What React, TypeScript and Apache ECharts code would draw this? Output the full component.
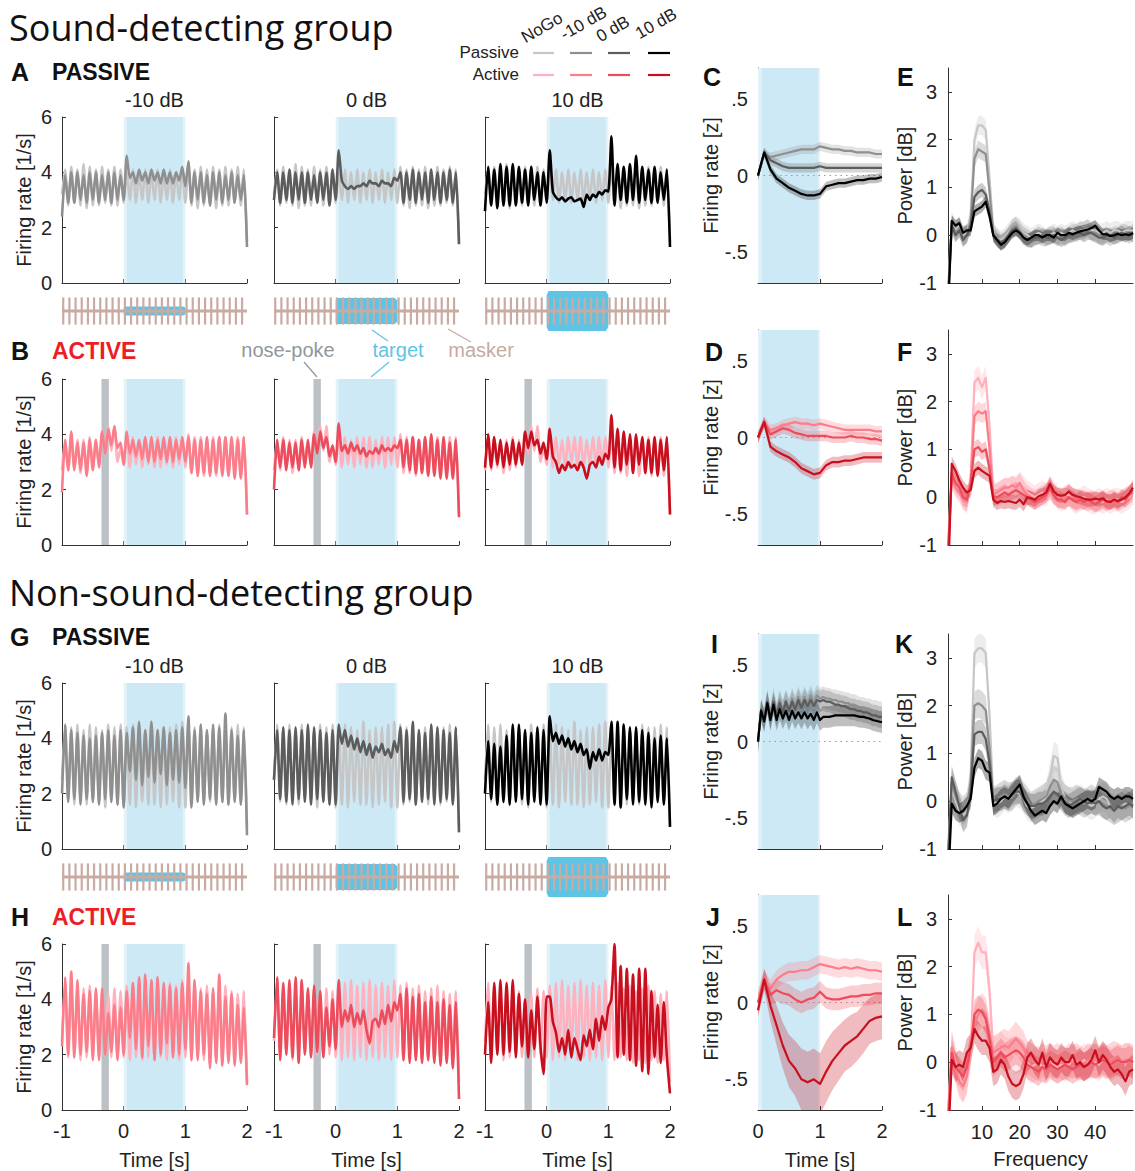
import React, { useEffect, useRef } from 'react';
import * as echarts from 'echarts';

const FONT = "'Liberation Sans', Arial, Helvetica, sans-serif";
const TITLE_FONT = "'Open Sans', 'Liberation Sans', sans-serif";

// ---------------- time / frequency grids ----------------
const tFiring: number[] = Array.from({ length: 61 }, (_, i) => +(-1 + i * 0.05).toFixed(2));
const tZ10: number[] = Array.from({ length: 21 }, (_, i) => +(i * 0.1).toFixed(2));
const tZ20: number[] = Array.from({ length: 41 }, (_, i) => +(i * 0.05).toFixed(2));
const freqHz: number[] = Array.from({ length: 50 }, (_, i) => i + 1);

const levelLabels = ['-10 dB', '0 dB', '10 dB'];
const noseWindow = [-0.36, -0.24];
const maskerOnsets = [-0.98, -0.88, -0.78, -0.68, -0.58, -0.48, -0.38, -0.28, -0.18, -0.08, 0.02, 0.12, 0.22, 0.32, 0.42, 0.52, 0.62, 0.72, 0.82, 0.92, 1.02, 1.12, 1.22, 1.32, 1.42, 1.52, 1.62, 1.72, 1.82, 1.92];
const targetHeights = [0.22, 0.65, 1.0];

// ---------------- firing rates [1/s], t = -1 .. 2 ----------------
const A_nogo = [3.2,4.1,2.8,4.2,2.9,4.1,2.8,4.3,2.7,4.2,2.8,4.1,2.8,4.2,2.9,4.1,2.8,4.2,2.8,4.1, 2.9,4.0,3.0,4.1,2.9,4.0,3.0,4.1,2.9,4.0,3.0,4.1,2.9,4.0,3.0,4.1,2.9,4.0,3.0,4.1,2.9, 4.2,2.8,4.1,2.7,4.2,2.8,4.1,2.8,4.2,2.7,4.1,2.8,4.2,2.8,4.1,2.9,4.2,2.8,4.1,1.5];
const A_m10 = [2.4,3.9,2.9,4.0,2.9,4.0,3.0,3.9,2.9,4.0,3.0,4.0,2.9,3.9,3.0,4.0,2.9,4.0,3.0,3.9, 3.0,4.6,3.8,4.0,3.6,4.1,3.7,4.0,3.6,4.1,3.7,4.0,3.6,4.1,3.6,4.0,3.6,4.0,3.7,4.2,3.5, 4.4,2.9,4.0,3.0,4.0,2.9,3.9,2.8,4.0,3.0,4.0,2.9,3.9,3.0,4.0,2.9,3.9,3.0,3.9,1.3];
const A_0 = [3.0,4.0,2.9,4.0,3.0,4.1,2.9,4.0,3.0,4.0,2.9,4.0,3.0,3.9,2.9,4.0,3.0,4.0,2.8,4.1, 3.0,4.8,3.7,3.5,3.4,3.5,3.4,3.5,3.5,3.6,3.5,3.7,3.6,3.6,3.5,3.7,3.6,3.6,3.5,3.8,3.7, 4.0,2.9,4.0,3.0,4.1,2.9,4.0,3.0,4.0,2.9,4.1,3.0,4.0,2.9,4.0,3.0,4.1,2.9,4.0,1.4];
const A_10 = [2.6,4.2,2.8,4.1,2.7,4.3,2.8,4.2,2.8,4.3,2.8,4.2,2.9,4.1,2.8,4.2,3.0,4.0,2.8,4.0, 2.9,4.8,3.3,3.1,3.0,3.1,2.95,3.05,3.1,2.95,3.0,3.05,2.75,3.2,3.0,3.2,3.1,3.3,3.2,3.35,3.3, 5.3,2.8,4.3,3.0,4.2,2.9,4.3,3.0,4.6,2.9,4.2,3.0,4.1,2.9,4.2,2.9,4.0,3.0,4.1,1.3];

const B_nogo = [2.7,3.8,2.7,3.9,2.8,3.8,2.6,3.8,2.7,3.9,2.8,3.8,2.9,4.1,3.3,4.3,3.4,4.3,3.0,3.5, 2.9,4.0,2.8,3.9,2.9,3.8,2.8,3.9,2.9,3.9,2.8,3.9,2.8,3.8,2.9,3.9,2.8,3.9,2.9,3.9,2.8, 4.0,2.6,3.9,2.6,3.9,2.5,3.8,2.6,3.9,2.5,3.9,2.6,3.9,2.5,3.8,2.6,3.9,2.5,3.9,1.1];
const B_m10 = [1.9,3.8,2.7,4.1,2.7,3.7,2.7,3.7,2.5,3.8,2.7,3.8,2.8,4.1,3.3,4.2,3.6,4.3,3.5,3.7, 2.9,4.1,3.3,3.8,3.2,3.8,3.1,3.9,3.0,3.9,3.0,3.8,3.1,3.9,3.0,3.9,3.0,3.8,3.1,3.9,3.0, 3.9,2.6,3.8,2.5,3.8,2.6,3.9,2.5,3.8,2.6,3.9,2.5,3.9,2.5,3.9,2.4,3.8,2.4,3.9,1.1];
const B_0 = [2.0,3.8,2.8,3.8,2.7,3.7,2.8,3.7,2.7,3.8,2.8,3.8,2.8,4.0,3.3,4.1,3.5,3.9,3.2,3.6, 3.0,4.4,3.4,3.6,3.3,3.7,3.4,3.6,3.3,3.5,3.2,3.4,3.3,3.5,3.3,3.6,3.4,3.5,3.4,3.6,3.5, 3.8,2.8,3.8,2.7,3.9,2.6,3.8,2.6,3.9,2.5,4.0,2.5,3.8,2.4,3.9,2.4,3.7,2.4,3.8,1.0];
const B_10 = [2.8,4.0,2.8,3.9,2.9,3.8,2.8,3.7,2.9,3.8,2.9,3.7,2.9,4.1,3.5,4.1,3.6,3.8,3.3,3.7, 3.1,4.2,3.2,3.0,2.6,2.9,2.7,3.0,2.8,2.9,2.7,3.0,2.8,2.4,2.9,3.0,2.8,3.2,2.9,3.3,3.1, 4.7,2.8,4.2,2.7,4.1,2.9,4.0,2.6,4.0,2.9,3.9,2.6,3.8,2.6,3.9,2.5,3.8,2.7,3.9,1.1];

const G_nogo = [2.5,4.5,1.7,4.4,1.6,4.5,1.8,4.3,1.6,4.5,1.7,4.4,1.6,4.3,1.5,4.5,1.7,4.4,1.6,4.5, 1.5,4.4,1.6,4.5,1.5,4.4,1.7,4.3,1.6,4.6,1.6,4.3,1.5,4.4,1.6,4.4,1.7,4.5,1.5,4.6,1.5, 4.5,1.6,4.4,1.7,4.5,1.6,4.3,1.7,4.4,1.6,4.5,1.7,4.4,1.6,4.4,1.7,4.5,1.6,4.4,0.8];
const G_m10 = [2.0,4.5,1.7,4.3,1.8,4.2,1.6,4.1,1.8,4.0,1.7,4.1,1.6,4.2,1.8,4.3,1.7,4.1,1.6,4.3, 1.5,4.2,2.8,4.4,2.5,4.6,2.3,4.3,2.6,4.6,2.4,4.3,2.7,4.4,2.3,4.2,2.5,4.3,2.4,4.4,2.2, 4.8,1.5,4.3,1.7,4.5,1.6,4.3,1.8,4.5,1.6,4.4,1.7,4.9,1.6,4.3,1.7,4.1,1.6,4.3,0.5];
const G_0 = [2.5,4.3,1.8,4.4,1.7,4.3,1.6,4.4,1.8,4.3,1.7,4.5,1.6,4.4,1.8,4.3,1.7,4.2,1.6,4.3, 1.6,4.5,3.8,4.3,3.7,4.1,3.6,4.0,3.5,3.9,3.4,3.8,3.3,3.7,3.5,3.8,3.4,3.6,3.3,3.9,3.5, 4.4,1.7,4.3,1.8,4.6,1.6,4.3,1.7,4.2,1.8,4.5,1.6,4.4,1.7,4.3,1.8,4.2,1.6,4.4,0.6];
const G_10 = [2.0,3.9,1.8,3.8,1.6,3.7,1.7,4.1,1.6,4.5,1.7,4.5,1.8,4.3,1.6,4.2,1.7,4.4,1.6,4.3, 1.6,4.8,3.9,4.2,3.8,4.1,3.7,4.0,3.6,3.9,3.5,3.8,3.4,3.6,2.9,3.5,3.2,3.6,3.2,3.5,3.4, 4.6,1.6,4.6,1.5,4.5,1.8,4.4,1.6,4.4,1.7,4.3,1.6,4.2,1.5,4.0,1.7,4.1,1.6,4.0,0.8];

const H_nogo = [2.5,4.6,1.9,4.5,2.0,4.3,1.8,4.4,1.9,4.5,2.0,4.3,1.9,4.0,2.0,4.2,1.9,4.4,2.0,4.3, 1.9,4.5,1.8,4.6,1.9,4.7,1.8,4.5,1.9,4.6,1.8,4.7,1.9,4.5,1.8,4.6,1.9,4.5,1.8,4.7,1.9, 4.5,1.8,4.6,1.9,4.4,1.8,4.5,1.7,4.3,1.8,4.4,1.7,4.5,1.8,4.3,1.7,4.2,1.8,4.3,1.0];
const H_m10 = [2.3,4.8,2.0,5.0,1.9,4.7,2.0,4.2,2.1,4.3,1.8,4.4,1.8,4.4,2.0,3.5,2.1,3.8,1.8,3.7, 2.0,4.3,2.6,4.6,2.2,4.8,1.9,4.9,2.3,4.7,1.8,4.8,2.0,4.6,2.4,4.5,1.9,4.4,2.0,4.6,2.2, 5.3,1.8,4.7,1.8,4.3,2.0,4.2,1.5,4.4,1.7,4.9,1.6,4.1,1.7,4.2,1.6,3.8,1.7,3.7,0.9];
const H_0 = [2.6,4.8,1.8,4.6,2.0,4.7,1.9,4.8,1.7,4.7,2.0,4.4,1.9,4.5,2.1,4.3,1.9,3.7,2.3,4.0, 2.2,4.7,3.0,3.6,3.2,3.8,3.0,3.5,3.1,3.6,2.9,2.4,3.2,3.3,3.0,3.6,3.1,3.8,3.2,3.9,3.6, 4.2,1.8,4.4,1.7,4.1,1.8,4.2,1.7,3.9,1.8,4.1,1.7,3.9,1.6,4.0,1.7,3.8,1.5,3.9,0.4];
const H_10 = [2.0,3.9,1.7,4.6,2.0,4.7,2.0,4.6,2.1,4.7,1.9,4.2,2.3,4.0,1.9,3.6,2.2,4.1,2.3,1.3, 4.1,4.1,3.2,2.8,2.1,2.6,2.0,2.9,1.9,2.6,2.2,1.8,2.7,2.3,2.9,2.2,3.3,2.5,3.4,2.9,3.7, 4.0,6.0,1.9,5.2,2.0,5.1,1.8,4.9,1.6,5.1,1.4,5.1,1.3,4.3,1.9,3.8,1.7,3.9,1.9,0.6];

// ---------------- firing rate [z], t = 0 .. 2 ----------------
const C_m10 = [0.0,0.14,0.12,0.13,0.14,0.15,0.16,0.17,0.17,0.17,0.19,0.18,0.17,0.17,0.16,0.16,0.15,0.15,0.15,0.14,0.14];
const C_0 = [0.0,0.15,0.1,0.08,0.06,0.05,0.05,0.05,0.05,0.05,0.06,0.05,0.05,0.05,0.05,0.05,0.05,0.05,0.05,0.05,0.05];
const C_10 = [0.0,0.15,0.04,-0.02,-0.05,-0.08,-0.1,-0.12,-0.13,-0.13,-0.12,-0.07,-0.06,-0.05,-0.05,-0.04,-0.03,-0.03,-0.02,-0.02,-0.01];
const D_m10 = [0.0,0.1,0.05,0.06,0.08,0.09,0.1,0.09,0.09,0.08,0.09,0.08,0.07,0.06,0.05,0.05,0.05,0.05,0.05,0.04,0.04];
const D_0 = [0.0,0.1,0.02,0.04,0.06,0.05,0.03,0.02,0.01,0.01,0.01,0.01,0.0,0.0,0.0,0.01,0.0,0.0,-0.01,-0.01,-0.02];
const D_10 = [0.0,0.1,-0.06,-0.09,-0.11,-0.13,-0.16,-0.2,-0.22,-0.24,-0.23,-0.18,-0.16,-0.16,-0.15,-0.15,-0.14,-0.13,-0.13,-0.13,-0.13];
const I_m10 = [0.0,0.2,0.15,0.27,0.16,0.28,0.18,0.27,0.2,0.27,0.21,0.28,0.23,0.29,0.24,0.29,0.25,0.3,0.25,0.3,0.28,0.29,0.28,0.28,0.27,0.27,0.26,0.26,0.25,0.25,0.24,0.24,0.23,0.22,0.22,0.21,0.21,0.2,0.2,0.19,0.19];
const I_0 = [0.0,0.21,0.14,0.26,0.15,0.26,0.17,0.25,0.19,0.26,0.2,0.26,0.21,0.27,0.22,0.27,0.23,0.27,0.23,0.27,0.26,0.27,0.26,0.26,0.25,0.24,0.24,0.23,0.23,0.22,0.21,0.21,0.2,0.2,0.19,0.19,0.18,0.17,0.17,0.16,0.16];
const I_10 = [0.0,0.2,0.13,0.25,0.14,0.24,0.14,0.21,0.15,0.2,0.14,0.2,0.15,0.19,0.15,0.19,0.15,0.18,0.14,0.19,0.14,0.16,0.16,0.16,0.165,0.17,0.17,0.17,0.17,0.17,0.17,0.17,0.165,0.16,0.16,0.155,0.15,0.14,0.135,0.13,0.125];
const J_m10 = [0.0,0.15,0.09,0.15,0.18,0.2,0.2,0.21,0.21,0.23,0.25,0.24,0.23,0.22,0.23,0.22,0.23,0.22,0.21,0.21,0.2];
const J_0 = [0.0,0.15,0.05,0.08,0.06,0.05,0.02,0.0,0.02,0.03,0.07,0.03,0.02,0.02,0.03,0.04,0.04,0.05,0.05,0.06,0.06];
const J_10 = [-0.05,0.15,-0.02,-0.15,-0.28,-0.38,-0.43,-0.5,-0.52,-0.5,-0.53,-0.45,-0.38,-0.33,-0.28,-0.25,-0.22,-0.17,-0.12,-0.1,-0.09];
const J_10_err = [0.05,0.07,0.1,0.13,0.15,0.17,0.18,0.2,0.2,0.2,0.2,0.2,0.19,0.18,0.17,0.17,0.16,0.16,0.15,0.15,0.15];
const zErr = { C: [0.03, 0.03, 0.03], D: [0.035, 0.035, 0.035], I: [0.07, 0.07, 0.07], J: [0.06, 0.07, 0] };

// ---------------- power [dB], f = 1 .. 50 Hz ----------------
const E_nogo = [-1.2,0.3,0.1,0.2,0.0,0.05,0.4,2.0,2.3,2.3, 2.2,1.2,0.1,-0.05,-0.1,-0.05,0.05,0.15,0.2,0.15, 0.05,0.0,-0.05,0.0,0.05,0.0,-0.05,0.0,0.05,0.0, 0.05,0.0,0.05,0.1,0.05,0.1,0.1,0.15,0.1,0.1, 0.05,0.05,0.1,0.05,0.1,0.1,0.05,0.1,0.1,0.1];
const E_m10 = [-1.3,0.25,0.05,0.15,-0.05,0.0,0.3,1.6,1.8,1.75, 1.7,0.9,0.05,-0.05,-0.15,-0.1,0.0,0.15,0.2,0.1, 0.0,-0.05,-0.1,-0.05,0.0,-0.05,-0.05,0.0,0.0,-0.05, 0.0,-0.05,0.0,0.05,0.05,0.1,0.1,0.15,0.05,0.05, 0.0,-0.05,0.0,-0.05,0.0,0.0,0.05,0.05,0.0,0.05];
const E_0 = [-1.4,0.2,0.0,0.1,-0.1,0.0,0.2,0.8,0.9,0.95, 0.85,0.5,0.0,-0.1,-0.15,-0.1,0.0,0.1,0.15,0.05, -0.05,-0.1,-0.1,-0.05,-0.05,0.0,-0.05,-0.05,0.0,-0.05, -0.1,-0.05,0.0,0.0,0.05,0.05,0.0,0.05,0.05,0.0, -0.05,-0.05,0.0,0.0,-0.05,0.0,0.05,0.0,0.05,0.0];
const E_10 = [-1.6,0.3,0.2,0.25,0.05,0.1,0.1,0.5,0.55,0.6, 0.7,0.4,0.0,-0.1,-0.2,-0.15,-0.05,0.05,0.1,0.05, -0.05,-0.1,-0.05,0.0,0.0,-0.05,0.0,0.0,-0.05,0.05, 0.0,0.0,0.05,0.02,0.05,0.08,0.1,0.12,0.15,0.2, 0.1,0.02,0.02,-0.02,0.0,0.03,0.0,0.02,0.0,0.05];
const F_nogo = [-1.0,0.5,0.3,0.2,0.0,-0.1,0.4,2.4,2.5,2.3, 2.5,1.5,0.1,0.05,0.1,0.15,0.15,0.2,0.2,0.3, 0.2,0.1,0.05,0.0,0.05,0.1,0.05,0.2,0.1,0.0, -0.05,0.0,0.05,-0.05,-0.1,-0.05,0.0,-0.05,-0.1,-0.1, -0.05,-0.1,-0.05,-0.1,-0.05,-0.05,-0.1,-0.05,0.0,0.1];
const F_m10 = [-1.1,0.4,0.2,0.1,-0.05,-0.1,0.3,1.7,1.8,1.75, 1.8,1.0,0.05,0.1,0.15,0.2,0.2,0.25,0.2,0.3, 0.15,0.05,0.0,-0.05,0.0,0.05,0.1,0.15,0.05,0.0, -0.05,0.0,0.0,-0.05,-0.1,-0.05,-0.05,-0.1,-0.05,-0.1, -0.1,-0.05,-0.1,-0.05,-0.05,-0.1,-0.05,0.0,0.05,0.1];
const F_0 = [-1.3,0.5,0.3,0.2,0.0,-0.05,0.3,1.0,1.05,0.95, 1.0,0.6,0.0,0.0,0.05,0.1,0.05,0.1,0.15,0.1, 0.05,0.0,-0.05,-0.1,-0.05,0.0,0.05,0.2,0.05,-0.05, -0.05,-0.1,0.0,-0.05,-0.1,-0.05,-0.1,-0.05,-0.1,-0.15, -0.1,-0.05,-0.1,-0.1,-0.05,-0.1,0.0,-0.05,0.05,0.15];
const F_10 = [-1.8,0.7,0.55,0.35,0.2,0.1,0.15,0.55,0.62,0.55, 0.5,0.45,-0.05,-0.12,-0.08,-0.1,-0.08,-0.1,-0.12,-0.05, -0.15,0.0,-0.02,-0.05,0.02,0.05,0.1,0.28,0.12,0.05, 0.03,0.05,0.12,0.05,0.02,0.0,-0.03,-0.05,-0.05,-0.03, -0.05,-0.02,-0.08,-0.1,-0.05,-0.08,-0.05,0.0,0.08,0.2];
const K_nogo = [-1.0,0.3,0.0,-0.2,-0.3,-0.2,0.5,3.1,3.2,3.2, 3.1,1.8,0.0,-0.05,0.0,0.1,0.05,0.1,0.2,0.15, 0.05,-0.1,-0.15,-0.1,-0.05,0.0,0.1,0.5,0.95,0.9, 0.3,0.05,0.0,-0.05,0.0,0.05,0.0,-0.05,-0.1,-0.05, 0.05,0.1,0.05,-0.1,-0.2,-0.15,-0.1,-0.05,-0.1,-0.05];
const K_m10 = [-1.2,0.4,0.1,-0.1,-0.2,-0.1,0.4,2.0,2.05,2.0, 1.9,1.1,0.0,0.05,0.1,0.15,0.1,0.1,0.2,0.25, 0.1,0.0,-0.1,-0.05,0.0,0.05,0.1,0.3,0.45,0.4, 0.15,0.05,0.0,0.0,0.05,0.0,-0.05,0.0,0.05,0.0, 0.0,-0.05,-0.1,-0.15,-0.2,-0.15,-0.1,-0.15,-0.1,-0.05];
const K_0 = [-1.3,0.5,0.2,-0.1,-0.4,-0.3,0.2,1.4,1.45,1.45, 1.3,0.8,0.0,0.05,0.05,0.1,0.05,0.15,0.2,0.2, 0.05,-0.05,-0.1,-0.1,-0.05,-0.05,0.0,0.1,0.2,0.15, 0.05,-0.05,-0.1,-0.05,0.0,0.05,0.0,-0.05,0.0,-0.05, 0.0,-0.1,-0.15,-0.1,-0.2,-0.1,-0.15,-0.1,-0.05,-0.1];
const K_10 = [-1.8,-0.05,-0.2,-0.25,-0.2,-0.1,0.05,0.7,0.9,0.85, 0.65,0.6,-0.1,-0.05,0.05,0.1,0.05,0.15,0.25,0.35, 0.1,-0.05,-0.2,-0.3,-0.25,-0.2,-0.25,-0.1,0.0,-0.05, 0.1,-0.05,-0.1,-0.15,-0.1,-0.05,0.0,0.05,0.0,0.05, 0.3,0.25,0.2,0.1,0.05,0.1,0.05,0.1,0.1,0.05];
const L_nogo = [-1.0,0.3,0.0,-0.3,-0.5,-0.3,0.2,2.3,2.5,2.3, 2.3,1.5,0.2,0.2,0.3,0.2,0.15,0.2,0.1,0.15, 0.1,0.0,-0.1,-0.05,0.0,-0.1,-0.05,0.05,-0.05,-0.1, -0.05,0.0,-0.05,0.05,0.0,-0.05,0.05,0.0,0.05,0.0, -0.05,0.05,0.0,-0.05,0.0,0.05,0.0,0.05,0.05,0.0];
const L_m10 = [-1.2,0.3,-0.1,-0.4,-0.5,-0.3,0.3,0.8,1.0,1.1, 1.0,0.6,0.2,0.25,0.3,0.35,0.3,0.4,0.5,0.4, 0.3,0.1,0.05,0.0,-0.05,0.05,0.0,0.05,0.0,0.05, 0.0,-0.05,0.05,0.0,0.05,0.0,-0.05,0.05,0.0,0.05, 0.0,0.05,0.0,0.05,0.1,0.05,0.0,0.05,0.05,0.0];
const L_0 = [-1.4,0.2,-0.1,-0.2,-0.3,-0.1,0.3,1.0,1.1,1.05, 0.9,0.5,0.0,0.1,0.2,0.1,0.15,0.2,0.25,0.2, 0.1,-0.05,-0.1,-0.15,-0.2,-0.1,-0.15,-0.05,-0.1,-0.15, -0.1,-0.05,-0.1,-0.15,-0.1,-0.05,-0.1,-0.05,0.0,-0.05, 0.0,0.05,0.0,-0.05,0.0,0.05,0.0,0.0,0.05,0.0];
const L_10 = [-1.8,0.05,-0.1,-0.05,-0.1,0.2,0.3,0.7,0.55,0.45, 0.45,0.3,-0.2,-0.15,0.05,-0.05,-0.3,-0.45,-0.5,-0.45, -0.25,0.1,0.2,0.05,-0.05,0.2,-0.1,0.1,0.0,-0.05, 0.1,0.0,0.0,0.15,-0.05,0.0,-0.1,-0.05,0.05,0.25, 0.0,0.15,0.05,-0.1,-0.2,-0.15,-0.25,-0.4,-0.2,-0.15];
const powerErr = { E: [0.2, 0.18, 0.15, 0.12], F: [0.25, 0.2, 0.17, 0.15], K: [0.3, 0.3, 0.25, 0.2], L: [0.35, 0.35, 0.3, 0.3] };

// ---------------- styling ----------------
const passiveColors = ['#c6c6c6', '#8f8f8f', '#5c5c5c', '#000000'];
const activeColors = ['#ffb1bd', '#fb7d89', '#ec4c5b', '#c80f1e'];
const AX = '#333333';
const TXT = '#222222';
const FR_LEFT = [62, 274, 485];
const FR_TOP = [117, 379, 683, 944];
const FR_W = 185;
const FR_H = 166;
const ZP_TOP = [68, 330, 634, 895];
const ZP_H = 215;
const Z_LEFT = 758;
const Z_W = 124;
const P_LEFT = 948;
const P_W = 185;
const STRIP_TOP = [291, 857];
const STRIP_H = 40;

function rgba(hex: string, a: number) {
  const n = parseInt(hex.slice(1), 16);
  return `rgba(${(n >> 16) & 255},${(n >> 8) & 255},${n & 255},${a})`;
}

function makeAxis(o: any) {
  const ax: any = {
    type: 'value',
    min: o.min,
    max: o.max,
    show: o.hidden ? false : true,
    splitLine: { show: false },
    axisLine: { show: true, onZero: false, lineStyle: { color: AX, width: 1 } },
    axisTick: { show: true, inside: true, length: 4, lineStyle: { color: AX, width: 1 } },
    axisLabel: {
      show: !!o.showLabels,
      fontFamily: FONT,
      fontSize: 20,
      color: TXT,
      margin: o.margin ?? 10,
      formatter: o.fmt ?? ((v: number) => String(v)),
    },
    name: o.name ?? '',
    nameLocation: 'middle',
    nameGap: o.nameGap ?? 30,
    nameTextStyle: { fontFamily: FONT, fontSize: 20, color: TXT },
  };
  if (o.interval !== undefined) ax.interval = o.interval;
  if (o.ticks) {
    ax.axisTick.customValues = o.ticks;
    ax.axisLabel.customValues = o.ticks;
  }
  return ax;
}

function buildOption() {
  const grid: any[] = [];
  const xAxis: any[] = [];
  const yAxis: any[] = [];
  const series: any[] = [];
  const graphic: any[] = [];

  const addGrid = (rect: number[], xa: any, ya: any) => {
    const idx = grid.length;
    grid.push({ left: rect[0], top: rect[1], width: rect[2], height: rect[3], containLabel: false });
    xAxis.push({ ...xa, gridIndex: idx });
    yAxis.push({ ...ya, gridIndex: idx });
    return idx;
  };

  const lineS = (idx: number, xs: number[], ys: number[], color: string, width: number, z: number, smooth = 0) => ({
    type: 'line',
    xAxisIndex: idx,
    yAxisIndex: idx,
    data: xs.map((x, i) => [x, ys[i]]),
    showSymbol: false,
    symbol: 'none',
    smooth,
    z,
    silent: true,
    lineStyle: { color, width, join: 'round' },
  });

  const bandS = (idx: number, xs: number[], lo: number[], hi: number[], fill: string, z: number, anchor: number[]) => ({
    type: 'custom',
    xAxisIndex: idx,
    yAxisIndex: idx,
    z,
    silent: true,
    data: [anchor],
    renderItem: (params: any, api: any) => {
      const pts: number[][] = [];
      for (let i = 0; i < xs.length; i++) pts.push(api.coord([xs[i], hi[i]]));
      for (let i = xs.length - 1; i >= 0; i--) pts.push(api.coord([xs[i], lo[i]]));
      const cs = params.coordSys;
      return {
        type: 'polygon',
        shape: { points: pts },
        style: { fill },
        clipPath: { type: 'rect', shape: { x: cs.x, y: cs.y, width: cs.width, height: cs.height } },
      };
    },
  });

  const shadeS = (idx: number, inner: number[], withNose: boolean) => {
    const data: any[] = [
      [{ xAxis: 0, itemStyle: { color: '#e2f2f9' } }, { xAxis: 1 }],
      [{ xAxis: inner[0], itemStyle: { color: '#cde9f5' } }, { xAxis: inner[1] }],
    ];
    if (withNose) data.push([{ xAxis: noseWindow[0], itemStyle: { color: '#bcc1c5' } }, { xAxis: noseWindow[1] }]);
    return {
      type: 'line',
      xAxisIndex: idx,
      yAxisIndex: idx,
      data: [],
      z: 1,
      silent: true,
      markArea: { silent: true, data },
    };
  };

  // ---------- firing-rate panels ----------
  const firingRows = [
    { nogo: A_nogo, cond: [A_m10, A_0, A_10], active: false },
    { nogo: B_nogo, cond: [B_m10, B_0, B_10], active: true },
    { nogo: G_nogo, cond: [G_m10, G_0, G_10], active: false },
    { nogo: H_nogo, cond: [H_m10, H_0, H_10], active: true },
  ];
  firingRows.forEach((row, r) => {
    const colors = row.active ? activeColors : passiveColors;
    for (let c = 0; c < 3; c++) {
      const idx = addGrid(
        [FR_LEFT[c], FR_TOP[r], FR_W, FR_H],
        makeAxis({ min: -1, max: 2, interval: 1, showLabels: r === 3, margin: 11, name: r === 3 ? 'Time [s]' : '', nameGap: 40 }),
        makeAxis({ min: 0, max: 6, interval: 2, showLabels: c === 0, margin: 10, name: c === 0 ? 'Firing rate [1/s]' : '', nameGap: 28 })
      );
      series.push(shadeS(idx, [0.05, 0.96], row.active));
      series.push(lineS(idx, tFiring, row.nogo, colors[0], 2.6, 3, 0.2));
      series.push(lineS(idx, tFiring, row.cond[c], colors[c + 1], 2.6, 4, 0.2));
    }
  });

  // ---------- stimulus strips ----------
  for (let s = 0; s < 2; s++) {
    for (let c = 0; c < 3; c++) {
      const idx = addGrid(
        [FR_LEFT[c], STRIP_TOP[s], FR_W, STRIP_H],
        makeAxis({ min: -1, max: 2, hidden: true }),
        makeAxis({ min: -1, max: 1, hidden: true })
      );
      series.push({
        type: 'custom', xAxisIndex: idx, yAxisIndex: idx, z: 2, silent: true,
        data: [[0.5, targetHeights[c]]],
        renderItem: (params: any, api: any) => {
          const h = api.value(1);
          const shape = [[0, -0.8], [0.03, -1], [0.96, -1], [1, -0.8], [1, 0.8], [0.96, 1], [0.03, 1], [0, 0.8]];
          const pts = shape.map((p) => api.coord([p[0], p[1] * h]));
          return { type: 'polygon', shape: { points: pts }, style: { fill: '#5ec4e6' } };
        },
      });
      series.push({
        type: 'line', xAxisIndex: idx, yAxisIndex: idx, z: 3, silent: true,
        data: [[-1, 0], [2, 0]], showSymbol: false, symbol: 'none',
        lineStyle: { color: '#c8aba2', width: 3 },
      });
      series.push({
        type: 'custom', xAxisIndex: idx, yAxisIndex: idx, z: 4, silent: true,
        data: maskerOnsets.map((t) => [t, 0]),
        renderItem: (params: any, api: any) => {
          const x = api.value(0);
          const p1 = api.coord([x, -0.68]);
          const p2 = api.coord([x, 0.68]);
          return { type: 'line', shape: { x1: p1[0], y1: p1[1], x2: p2[0], y2: p2[1] }, style: { stroke: '#c8aba2', lineWidth: 2.2 } };
        },
      });
    }
  }

  // ---------- z-score panels ----------
  const zRows = [
    { t: tZ10, lines: [C_m10, C_0, C_10], err: zErr.C, active: false },
    { t: tZ10, lines: [D_m10, D_0, D_10], err: zErr.D, active: true },
    { t: tZ20, lines: [I_m10, I_0, I_10], err: zErr.I, active: false },
    { t: tZ10, lines: [J_m10, J_0, J_10], err: zErr.J, active: true },
  ];
  const zFmt = (v: number) => (Math.abs(v) < 1e-9 ? '0' : v > 0 ? '.5' : '-.5');
  zRows.forEach((row, r) => {
    const colors = row.active ? activeColors : passiveColors;
    const idx = addGrid(
      [Z_LEFT, ZP_TOP[r], Z_W, ZP_H],
      makeAxis({ min: 0, max: 2, interval: 1, showLabels: r === 3, margin: 11, name: r === 3 ? 'Time [s]' : '', nameGap: 40 }),
      makeAxis({ min: -0.7, max: 0.7, ticks: [-0.5, 0, 0.5], showLabels: true, fmt: zFmt, margin: 10, name: 'Firing rate [z]', nameGap: 31 })
    );
    series.push(shadeS(idx, [0.06, 0.97], false));
    series.push({
      type: 'line', xAxisIndex: idx, yAxisIndex: idx, z: 2, silent: true,
      data: [[0, 0], [2, 0]], showSymbol: false, symbol: 'none',
      lineStyle: { color: '#9a9a9a', width: 1, type: [1.5, 4] },
    });
    row.lines.forEach((ys, k) => {
      const e = (i: number) => (r === 3 && k === 2 ? J_10_err[i] : row.err[k]);
      const lo = ys.map((v, i) => v - e(i));
      const hi = ys.map((v, i) => v + e(i));
      series.push(bandS(idx, row.t, lo, hi, rgba(colors[k + 1], row.active ? 0.28 : 0.25), 3, [1, 0]));
    });
    row.lines.forEach((ys, k) => {
      series.push(lineS(idx, row.t, ys, colors[k + 1], 2.2, 5));
    });
  });

  // ---------- power panels ----------
  const pRows = [
    { lines: [E_nogo, E_m10, E_0, E_10], err: powerErr.E, active: false },
    { lines: [F_nogo, F_m10, F_0, F_10], err: powerErr.F, active: true },
    { lines: [K_nogo, K_m10, K_0, K_10], err: powerErr.K, active: false },
    { lines: [L_nogo, L_m10, L_0, L_10], err: powerErr.L, active: true },
  ];
  pRows.forEach((row, r) => {
    const colors = row.active ? activeColors : passiveColors;
    const idx = addGrid(
      [P_LEFT, ZP_TOP[r], P_W, ZP_H],
      makeAxis({ min: 1, max: 50, ticks: [10, 20, 30, 40], showLabels: r === 3, margin: 12, name: r === 3 ? 'Frequency' : '', nameGap: 39 }),
      makeAxis({ min: -1, max: 3.5, ticks: [-1, 0, 1, 2, 3], showLabels: true, margin: 11, name: 'Power [dB]', nameGap: 31 })
    );
    row.lines.forEach((ys, k) => {
      const lo = ys.map((v) => v - row.err[k]);
      const hi = ys.map((v) => v + row.err[k]);
      series.push(bandS(idx, freqHz, lo, hi, rgba(colors[k], row.active ? 0.3 : 0.32), 2, [10, 0]));
    });
    row.lines.forEach((ys, k) => {
      series.push(lineS(idx, freqHz, ys, colors[k], 2.2, 4));
    });
  });

  // ---------- texts ----------
  const txt = (text: string, x: number, y: number, st: any = {}, extra: any = {}) => ({
    type: 'text', x, y, silent: true, ...extra,
    style: {
      text, fontFamily: FONT, fontSize: 20, fill: TXT,
      textAlign: 'left', textVerticalAlign: 'middle', align: 'left', verticalAlign: 'middle', ...st,
    },
  });
  const ln = (x1: number, y1: number, x2: number, y2: number, stroke: string, w = 1.2) => ({
    type: 'line', silent: true, shape: { x1, y1, x2, y2 }, style: { stroke, lineWidth: w },
  });

  graphic.push(txt('Sound-detecting group', 9, 27, { fontFamily: TITLE_FONT, fontSize: 36, fill: '#111' }));
  graphic.push(txt('Non-sound-detecting group', 9, 592, { fontFamily: TITLE_FONT, fontSize: 36, fill: '#111' }));

  const bold = { fontWeight: 'bold', fontSize: 25, fill: '#111' };
  graphic.push(txt('A', 11, 72, bold));
  graphic.push(txt('B', 11, 351, bold));
  graphic.push(txt('G', 10, 637, bold));
  graphic.push(txt('H', 11, 917, bold));
  graphic.push(txt('C', 703, 77, bold));
  graphic.push(txt('D', 705, 352, bold));
  graphic.push(txt('I', 711, 644, bold));
  graphic.push(txt('J', 706, 917, bold));
  graphic.push(txt('E', 897, 77, bold));
  graphic.push(txt('F', 897, 352, bold));
  graphic.push(txt('K', 895, 644, bold));
  graphic.push(txt('L', 897, 917, bold));

  const cond = { fontWeight: 'bold', fontSize: 23 };
  graphic.push(txt('PASSIVE', 52, 72, { ...cond, fill: '#111' }));
  graphic.push(txt('ACTIVE', 52, 351, { ...cond, fill: '#ee1c25' }));
  graphic.push(txt('PASSIVE', 52, 637, { ...cond, fill: '#111' }));
  graphic.push(txt('ACTIVE', 52, 917, { ...cond, fill: '#ee1c25' }));

  [100, 666].forEach((y) => {
    levelLabels.forEach((lab, c) => {
      graphic.push(txt(lab, FR_LEFT[c] + FR_W / 2, y, { textAlign: 'center', align: 'center' }));
    });
  });

  // legend
  graphic.push(txt('Passive', 519, 52, { fontSize: 17, textAlign: 'right', align: 'right' }));
  graphic.push(txt('Active', 519, 74, { fontSize: 17, textAlign: 'right', align: 'right' }));
  const legX = [[533, 554], [570, 592], [608, 630], [648, 670]];
  legX.forEach((xx, k) => {
    graphic.push(ln(xx[0], 53, xx[1], 53, passiveColors[k], 2.2));
    graphic.push(ln(xx[0], 75, xx[1], 75, activeColors[k], 2.2));
  });
  const legLabels = [['NoGo', 527, 46], ['-10 dB', 566, 43], ['0 dB', 602, 45], ['10 dB', 641, 42]];
  legLabels.forEach((l) => {
    graphic.push(txt(l[0] as string, l[1] as number, l[2] as number, {
      fontSize: 17, textVerticalAlign: 'bottom', verticalAlign: 'bottom',
    }, { rotation: 0.52 }));
  });

  // annotations
  graphic.push(txt('nose-poke', 288, 350, { textAlign: 'center', align: 'center', fill: '#8f979d' }));
  graphic.push(txt('target', 398, 350, { textAlign: 'center', align: 'center', fill: '#5ec4e6' }));
  graphic.push(txt('masker', 481, 350, { textAlign: 'center', align: 'center', fill: '#c6aaa1' }));
  graphic.push(ln(304, 362, 317, 377, '#8f979d'));
  graphic.push(ln(389, 362, 371, 377, '#5ec4e6'));
  graphic.push(ln(372, 330, 388, 341, '#5ec4e6'));
  graphic.push(ln(448, 329, 471, 342, '#c6aaa1'));

  return { animation: false, backgroundColor: '#ffffff', grid, xAxis, yAxis, series, graphic };
}

export default function App() {
  const ref = useRef<HTMLDivElement>(null);
  useEffect(() => {
    if (!ref.current) return;
    const chart = echarts.init(ref.current, undefined, { renderer: 'svg' });
    chart.setOption(buildOption());
    return () => chart.dispose();
  }, []);
  return (
    <div
      ref={ref}
      style={{ position: 'absolute', left: 0, top: 0, width: 1135, height: 1171, background: '#fff' }}
    />
  );
}
